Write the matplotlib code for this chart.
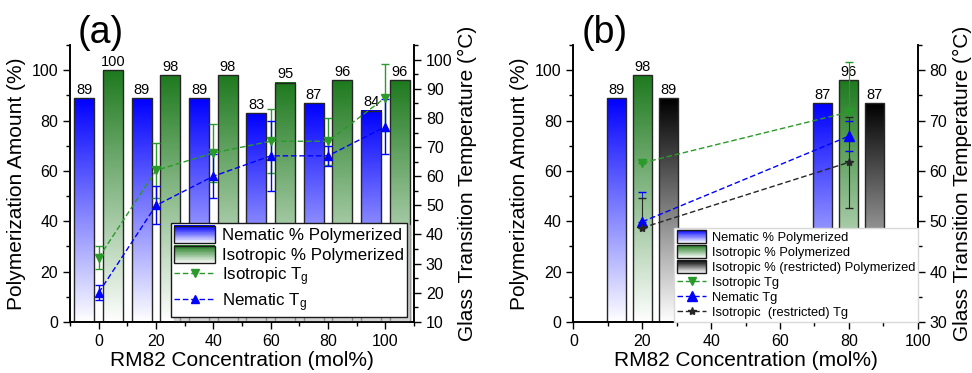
import numpy as np
import matplotlib
matplotlib.use('Agg')
import matplotlib.pyplot as plt
import matplotlib.colors as mcolors
from matplotlib.legend_handler import HandlerBase
from matplotlib.patches import Rectangle, Patch
from matplotlib.ticker import MultipleLocator

plt.rcParams['font.family'] = ['Liberation Sans', 'DejaVu Sans']
plt.rcParams['mathtext.default'] = 'regular'

# ---- panel (a) data ----
conc_a = [0, 20, 40, 60, 80, 100]
nem_poly_a = [89, 89, 89, 83, 87, 84]
iso_poly_a = [100, 98, 98, 95, 96, 96]
iso_tg_a = [32, 62, 68, 72, 72, 87]
iso_tg_err_a = [4, 9.5, 10, 11, 8, 11.5]
nem_tg_a = [20, 50, 60, 67, 67, 77]
nem_tg_err_a = [2.5, 6.5, 7.5, 12, 3.5, 9.5]

# ---- panel (b) data ----
conc_b = [20, 80]
nem_poly_b = [89, 87]
iso_poly_b = [98, 96]
res_poly_b = [89, 87]
iso_tg_b = [61.6, 71.7]
iso_tg_err_lo_b = [0, 10]
iso_tg_err_hi_b = [0, 10]
nem_tg_b = [49.9, 66.9]
nem_tg_err_lo_b = [0, 3]
nem_tg_err_hi_b = [6, 3]
res_tg_b = [48.7, 61.7]
res_tg_err_lo_b = [0, 9]
res_tg_err_hi_b = [6, 9]

BLUE = '#0000ff'
GREEN = '#1e7a1e'
BLACK = '#000000'
LGREEN = '#2a9a2a'


def grad_bars(ax, x, h, width, color):
    bars = ax.bar(x, h, width, fill=False, edgecolor='0.15', lw=1.0, zorder=2)
    cmap = mcolors.LinearSegmentedColormap.from_list('g', ['white', color])
    grad = np.linspace(0, 1, 256).reshape(-1, 1)
    for b in bars:
        x0 = b.get_x()
        ax.imshow(grad, extent=[x0, x0 + b.get_width(), 0, b.get_height()],
                  origin='lower', aspect='auto', cmap=cmap, zorder=1)
    return bars


class HandlerGrad(HandlerBase):
    def __init__(self, color):
        super().__init__()
        self.color = np.array(mcolors.to_rgb(color))

    def create_artists(self, legend, orig_handle, xdescent, ydescent,
                       width, height, fontsize, trans):
        arts = []
        n = 24
        for i in range(n):
            f = (i + 0.5) / n
            col = 1 - f * (1 - self.color)
            arts.append(Rectangle((-xdescent, -ydescent + height * i / n), width,
                                  height / n + 0.3, facecolor=col, edgecolor='none',
                                  transform=trans))
        arts.append(Rectangle((-xdescent, -ydescent), width, height, fill=False,
                              edgecolor='0.1', lw=1.0, transform=trans))
        return arts


def style(ax, ax2):
    for a in (ax, ax2):
        a.tick_params(direction='out', labelsize=11.5, width=1, length=5)
        a.tick_params(which='minor', direction='out', width=1, length=3)
        for s in a.spines.values():
            s.set_linewidth(1.2)
        a.spines['top'].set_visible(False)
    ax.xaxis.set_major_locator(MultipleLocator(20))
    ax.xaxis.set_minor_locator(MultipleLocator(10))
    ax.yaxis.set_major_locator(MultipleLocator(20))
    ax.yaxis.set_minor_locator(MultipleLocator(10))
    ax2.yaxis.set_major_locator(MultipleLocator(10))
    ax2.yaxis.set_minor_locator(MultipleLocator(5))
    ax.set_xlabel('RM82 Concentration (mol%)', fontsize=15, labelpad=2)
    ax.set_ylabel('Polymerization Amount (%)', fontsize=15, labelpad=4)
    ax2.set_ylabel('Glass Transition Temperature (°C)', fontsize=15, labelpad=4)


fig = plt.figure(figsize=(9.72, 3.73), dpi=100)

# ================= (a) =================
ax = fig.add_axes([0.072, 0.137, 0.354, 0.742])
ax2 = ax.twinx()
xa = np.array(conc_a)
b1 = grad_bars(ax, xa - 5, nem_poly_a, 7, BLUE)
b2 = grad_bars(ax, xa + 5, iso_poly_a, 7, GREEN)
ax.bar_label(b1, fmt='%d', padding=1, fontsize=10.5)
ax.bar_label(b2, fmt='%d', padding=1, fontsize=10.5)
l1 = ax2.errorbar(xa, iso_tg_a, yerr=iso_tg_err_a, fmt='v', ls='--', color=LGREEN,
                  ms=6, lw=1, capsize=3, elinewidth=1, dashes=(4, 2))
l2 = ax2.errorbar(xa, nem_tg_a, yerr=nem_tg_err_a, fmt='^', ls='--', color=BLUE,
                  ms=6, lw=1, capsize=3, elinewidth=1, dashes=(4, 2))
ax.set_xlim(-10, 110)
ax.set_ylim(0, 110)
ax2.set_ylim(10, 105)
style(ax, ax2)
pa = Patch(label='Nematic % Polymerized')
pb = Patch(label='Isotropic % Polymerized')
leg = ax2.legend([pa, pb, l1[0], l2[0]],
                 ['Nematic % Polymerized', 'Isotropic % Polymerized',
                  'Isotropic T$_{g}$', 'Nematic T$_{g}$'],
                 handler_map={pa: HandlerGrad(BLUE), pb: HandlerGrad(GREEN)},
                 loc='lower right', bbox_to_anchor=(0.98, 0.018), borderaxespad=0,
                 fontsize=12.2, handlelength=2.4, handleheight=1.2, labelspacing=0.15,
                 handletextpad=0.4, borderpad=0.2, fancybox=False, framealpha=1,
                 edgecolor='0.1', shadow={'color': '0.75', 'alpha': 0.6})
leg.get_frame().set_linewidth(1.0)
ax.text(0.023, 1.045, '(a)', transform=ax.transAxes, fontsize=27, ha='left', va='center')

# ================= (b) =================
bx = fig.add_axes([0.590, 0.137, 0.354, 0.742])
bx2 = bx.twinx()
xb = np.array(conc_b)
c1 = grad_bars(bx, xb - 7.5, nem_poly_b, 5.5, BLUE)
c2 = grad_bars(bx, xb, iso_poly_b, 5.5, GREEN)
c3 = grad_bars(bx, xb + 7.5, res_poly_b, 5.5, BLACK)
for c in (c1, c2, c3):
    bx.bar_label(c, fmt='%d', padding=1, fontsize=10.5)
m1 = bx2.errorbar(xb, iso_tg_b, yerr=[iso_tg_err_lo_b, iso_tg_err_hi_b], fmt='v',
                  ls='--', color=LGREEN, ms=6, lw=1, capsize=3, elinewidth=0.8,
                  dashes=(4, 2))
m2 = bx2.errorbar(xb, nem_tg_b, yerr=[nem_tg_err_lo_b, nem_tg_err_hi_b], fmt='^',
                  ls='--', color=BLUE, ms=7, lw=1, capsize=3, elinewidth=0.6,
                  dashes=(4, 2))
m3 = bx2.errorbar(xb, res_tg_b, yerr=[res_tg_err_lo_b, res_tg_err_hi_b], fmt='*',
                  ls='--', color='0.15', ms=6, lw=1, capsize=3, elinewidth=0.8,
                  dashes=(4, 2))
bx.set_xlim(0, 100)
bx.set_ylim(0, 110)
bx2.set_ylim(30, 85)
style(bx, bx2)
qa = Patch(label='a')
qb = Patch(label='b')
qc = Patch(label='c')
leg2 = bx2.legend([qa, qb, qc, m1[0], m2[0], m3[0]],
                  ['Nematic % Polymerized', 'Isotropic % Polymerized',
                   'Isotropic % (restricted) Polymerized', 'Isotropic Tg',
                   'Nematic Tg', 'Isotropic  (restricted) Tg'],
                  handler_map={qa: HandlerGrad(BLUE), qb: HandlerGrad(GREEN),
                               qc: HandlerGrad(BLACK)},
                  loc='lower right', bbox_to_anchor=(1.0, 0.0), borderaxespad=0,
                  fontsize=9.3, handlelength=2.3, handleheight=1.15, labelspacing=0.1,
                  handletextpad=0.4, borderpad=0.2, fancybox=False, framealpha=1,
                  edgecolor='0.85')
bx.text(0.024, 1.045, '(b)', transform=bx.transAxes, fontsize=27, ha='left', va='center')

fig.savefig('out.png', dpi=100)
